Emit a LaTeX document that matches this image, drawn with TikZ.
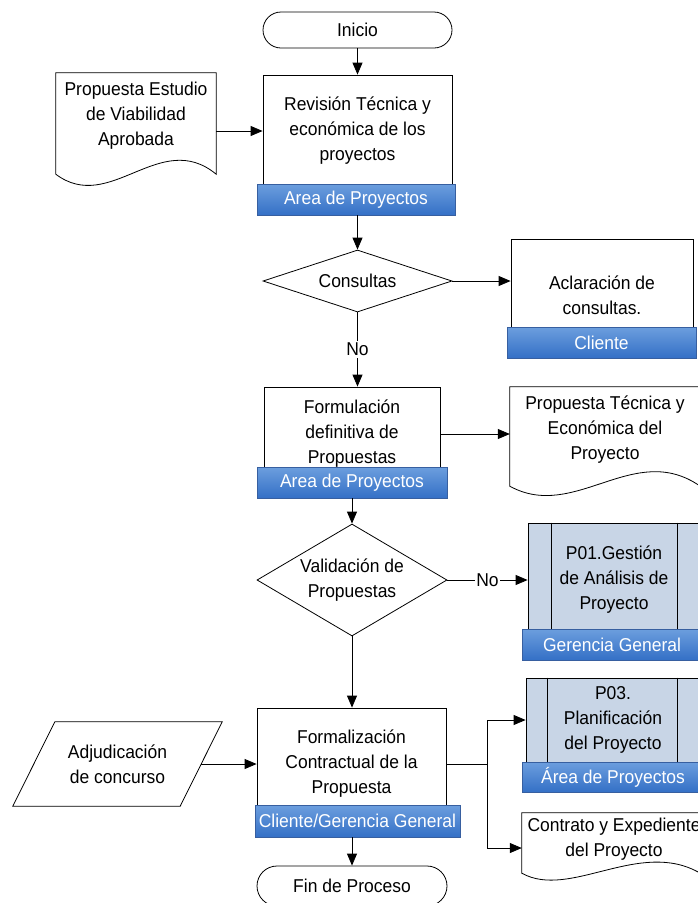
\documentclass[tikz,border=0pt]{standalone}
\usepackage{fontspec}
\setmainfont[FakeStretch=0.94]{Liberation Sans}
\usetikzlibrary{arrows.meta,shapes.geometric,shapes.misc}

\definecolor{bartop}{RGB}{108,158,222}
\definecolor{barbot}{RGB}{52,112,198}
\definecolor{barline}{RGB}{55,95,160}
\definecolor{subfill}{RGB}{200,213,230}

\begin{document}
\begin{tikzpicture}[x=1pt,y=-1pt,
  every node/.style={font=\fontsize{18.6}{25}\selectfont, align=center, inner sep=0pt},
  line/.style={draw=black, line width=0.8pt},
  arr/.style={line, -{Triangle[length=12pt,width=10pt]}},
  terminal/.style={rounded rectangle, line, fill=white},
  proc/.style={rectangle, line, fill=white},
  subproc/.style={rectangle, line, fill=subfill},
  decision/.style={diamond, line, fill=white},
  bar/.style={rectangle, draw=barline, line width=0.6pt, top color=bartop, bottom color=barbot,
              text=white, minimum height=31},
  area/.style={rectangle, draw=none},
  lbl/.style={fill=white, inner xsep=1pt, inner ysep=2pt}
]
\useasboundingbox (0,0) rectangle (698,903);
\clip (0,0) rectangle (698,903);

% ---- start ----
\node[terminal, minimum width=189, minimum height=36] (inicio) at (357.5,30) {Inicio};

% ---- technical and economic review ----
\node[proc, minimum width=189, minimum height=112] (b1) at (357.5,131)
  {Revisión Técnica y\\económica de los\\proyectos};
\node[bar, minimum width=198] (bar1) at (356,199.5) {Area de Proyectos};

% ---- input document ----
\node[area, minimum width=160, minimum height=101] (doc1) at (136,123.5) {};
\draw[line, fill=white] (doc1.south west) -- (doc1.north west) -- (doc1.north east)
  -- (doc1.south east) .. controls (160,128) and (110,215) .. (doc1.south west) -- cycle;
\node at ([yshift=7.5pt]doc1.center) {Propuesta Estudio\\de Viabilidad\\Aprobada};

% ---- queries ----
\node[decision, minimum width=189, minimum height=62] (d1) at (357.5,281) {};
\node at (d1.center) {Consultas};

\node[proc, minimum width=182, minimum height=112] (acl) at (602,295)
  {Aclaración de\\consultas.};
\node[bar, minimum width=189] (bar4) at (601.5,342.5) {Cliente};

% ---- final formulation ----
\node[proc, minimum width=176, minimum height=94] (b2) at (352,434)
  {Formulación\\definitiva de\\Propuestas};
\node[bar, minimum width=190] (bar2) at (352,482.5) {Area de Proyectos};

\node[area, minimum width=190, minimum height=99] (doc2) at (605,436.5) {};
\draw[line, fill=white] (doc2.south west) -- (doc2.north west) -- (doc2.north east)
  -- (doc2.south east) .. controls (634,440) and (575,522) .. (doc2.south west) -- cycle;
\node at ([yshift=6.5pt]doc2.center) {Propuesta Técnica y\\Económica del\\Proyecto};

% ---- validation ----
\node[decision, minimum width=190, minimum height=112] (d2) at (352,580) {};
\node at (d2.center) {Validación de\\Propuestas};

\node[subproc, minimum width=172, minimum height=114] (p01) at (614,580)
  {P01.Gestión\\de Análisis de\\Proyecto};
\draw[line] ([xshift=24pt]p01.north west) -- ([xshift=24pt]p01.south west);
\draw[line] ([xshift=-23pt]p01.north east) -- ([xshift=-23pt]p01.south east);
\node[bar, minimum width=180] (bar5) at (612,644.5) {Gerencia General};

% ---- contract formalisation ----
\node[proc, minimum width=189, minimum height=112] (b3) at (351.5,764)
  {Formalización\\Contractual de la\\Propuesta};
\node[bar, minimum width=205, minimum height=32] (bar3) at (357.5,821) {Cliente/Gerencia General};

\node[area, minimum width=167, minimum height=84] (adj) at (117.5,764) {};
\draw[line, fill=white] ([xshift=21pt]adj.north west) -- ([xshift=21pt]adj.north east)
  -- ([xshift=-21pt]adj.south east) -- ([xshift=-21pt]adj.south west) -- cycle;
\node at (adj.center) {Adjudicación\\de concurso};

\node[subproc, minimum width=174, minimum height=84] (p03) at (613,720)
  {P03.\\Planificación\\del Proyecto};
\draw[line] ([xshift=22pt]p03.north west) -- ([xshift=22pt]p03.south west);
\draw[line] ([xshift=-23pt]p03.north east) -- ([xshift=-23pt]p03.south east);
\node[bar, minimum width=182, minimum height=30] (bar6) at (613,777) {Área de Proyectos};

\node[area, minimum width=178, minimum height=60] (doc3) at (611,843) {};
\draw[line, fill=white] (doc3.south west) -- (doc3.north west) -- (doc3.north east)
  -- (doc3.south east) .. controls (640,838) and (570,900) .. (doc3.south west) -- cycle;
\node at ([xshift=3pt,yshift=4pt]doc3.center) {Contrato y Expediente\\del Proyecto};

% ---- end ----
\node[terminal, minimum width=190, minimum height=40] (fin) at (352,886) {Fin de Proceso};

% ---- connectors ----
\coordinate (jn) at (487,764);
\draw[arr] (inicio.south) -- (b1.north);
\draw[arr] (doc1.east |- b1.west) -- (b1.west);
\draw[arr] (d1.north |- bar1.south) -- (d1.north);
\draw[arr] (d1.east) -- (d1.east -| acl.west);
\draw[arr] (d1.south) -- (d1.south |- b2.north) node[pos=0.5, lbl] {No};
\draw[arr] (b2.east) -- (b2.east -| doc2.west);
\draw[arr] (bar2.south) -- (d2.north);
\draw[arr] (d2.east) -- (p01.west) node[pos=0.5, lbl] {No};
\draw[arr] (d2.south) -- (d2.south |- b3.north);
\draw[arr] (adj.east) -- (b3.west);
\draw[line] (b3.east) -- (jn);
\draw[arr] (jn) |- (p03.west);
\draw[arr] (jn) |- ([yshift=-5pt]doc3.west);
\draw[arr] (bar3.south -| fin.north) -- (fin.north);
\end{tikzpicture}
\end{document}
